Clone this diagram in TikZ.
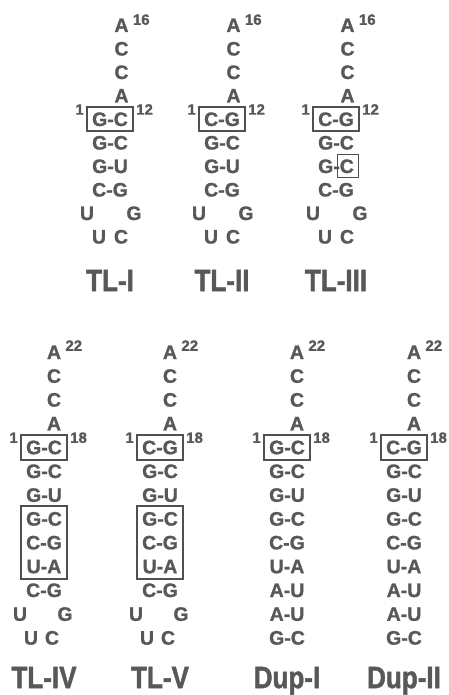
\documentclass[tikz,border=0pt]{standalone}
\usepackage{fontspec}
\setmainfont{Liberation Sans}
\usetikzlibrary{fit}
\definecolor{inkgrey}{RGB}{88,88,88}
\definecolor{framegrey}{RGB}{80,80,80}

\begin{document}
\begin{tikzpicture}[x=1pt,y=-1pt,
 nt/.style={text=inkgrey,font=\fontsize{19.5}{21}\selectfont\bfseries\addfontfeature{FakeBold=1.2},inner sep=0pt,text height=14pt,text depth=0pt},
 num/.style={text=inkgrey,font=\fontsize{15}{16}\selectfont\bfseries\addfontfeature{FakeBold=1},inner sep=0pt,text height=10.8pt,text depth=0pt},
 ttl/.style={text=inkgrey,font=\fontsize{31}{33}\selectfont\bfseries\addfontfeature{FakeStretch=0.84,FakeBold=1.5},inner sep=0pt,text height=22.3pt,text depth=0pt},
 pbox/.style={draw=framegrey,line width=1.9pt,inner xsep=5pt,inner ysep=5.2pt}]
\useasboundingbox (0,0) rectangle (449,695);
% upper row: 12-mer stems
\foreach \c/\x/\lbl/\pairs in {1/110/TL-I/{G-C,G-C,G-U,C-G},2/222/TL-II/{C-G,G-C,G-U,C-G},3/336/TL-III/{C-G,G-C,G-C,C-G}}{
  \foreach \t [count=\k from 0] in {A,C,C,A}
    \node[nt] (t\c-\k) at (\x+11.5,25+23.5*\k) {\t};
  \foreach \p [count=\k from 4] in \pairs
    \node[nt] (t\c-\k) at (\x,25+23.5*\k) {\p};
  \node[nt] (t\c-u1) at (\x-23,213) {U};
  \node[nt] (t\c-g1) at (\x+24,213) {G};
  \node[nt] (t\c-u2) at (\x-11,236.5) {U};
  \node[nt] (t\c-c2) at (\x+11,236.5) {C};
  \node[pbox,fit=(t\c-4)] (t\c-box) {};
  \node[num,anchor=north east] (t\c-five) at ([xshift=-2pt,yshift=2pt]t\c-box.north west) {1};
  \node[num,anchor=north west] (t\c-three) at ([xshift=2pt,yshift=2pt]t\c-box.north east) {12};
  \node[num,anchor=north west] (t\c-end) at ([xshift=4pt,yshift=4pt]t\c-0.north east) {16};
  \node[ttl] (t\c-name) at (\x,280) {\lbl};
}
\node[pbox,minimum width=21pt,minimum height=23pt,inner sep=0pt] (t3-mark) at ([xshift=12pt]t3-6) {};
% lower row: 18-mer stems and duplexes
\foreach \c/\x/\lbl/\pairs in {1/44/TL-IV/{G-C,G-C,G-U,G-C,C-G,U-A,C-G},2/160/TL-V/{C-G,G-C,G-U,G-C,C-G,U-A,C-G},3/287/Dup-I/{G-C,G-C,G-U,G-C,C-G,U-A,A-U,A-U,G-C},4/404/Dup-II/{C-G,G-C,G-U,G-C,C-G,U-A,A-U,A-U,G-C}}{
  \foreach \t [count=\k from 0] in {A,C,C,A}
    \node[nt] (b\c-\k) at (\x+10,352+23.8*\k) {\t};
  \foreach \p [count=\k from 4] in \pairs
    \node[nt] (b\c-\k) at (\x,352+23.8*\k) {\p};
  \node[pbox,fit=(b\c-4)] (b\c-box) {};
  \node[num,anchor=north east] (b\c-five) at ([xshift=-2pt,yshift=2pt]b\c-box.north west) {1};
  \node[num,anchor=north west] (b\c-three) at ([xshift=2pt,yshift=2pt]b\c-box.north east) {18};
  \node[num,anchor=north west] (b\c-end) at ([xshift=4pt,yshift=5pt]b\c-0.north east) {22};
  \node[ttl] (b\c-name) at (\x,677) {\lbl};
}
\foreach \c/\x in {1/44,2/160}{
  \node[nt] (b\c-u1) at (\x-24,613.8) {U};
  \node[nt] (b\c-g1) at (\x+21,613.8) {G};
  \node[nt] (b\c-u2) at (\x-13,637.6) {U};
  \node[nt] (b\c-c2) at (\x+8,637.6) {C};
  \node[pbox,fit=(b\c-7)(b\c-9)] (b\c-blk) {};
}
\end{tikzpicture}
\end{document}
